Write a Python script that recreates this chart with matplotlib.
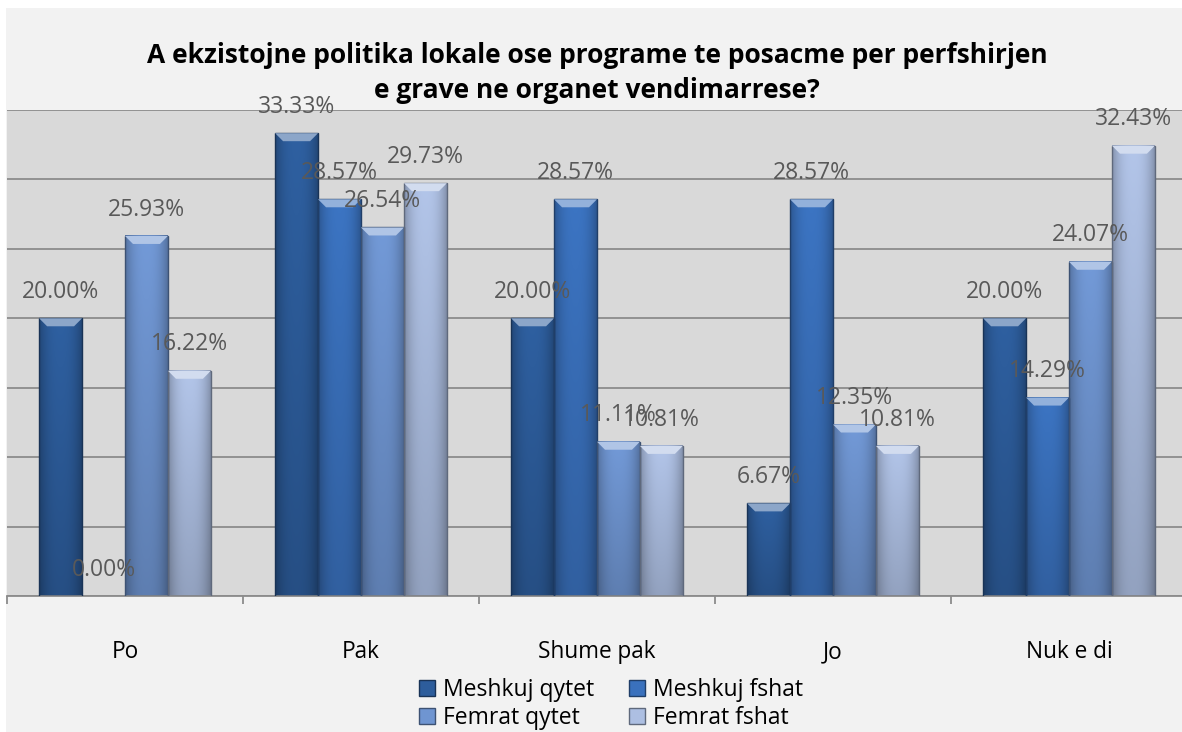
import matplotlib.pyplot as plt
import numpy as np
from matplotlib.colors import to_rgb
from matplotlib.patches import Rectangle, Polygon

categories = ["Po", "Pak", "Shume pak", "Jo", "Nuk e di"]
series_names = ["Meshkuj qytet", "Meshkuj fshat", "Femrat qytet", "Femrat fshat"]
meshkuj_qytet = [20.00, 33.33, 20.00, 6.67, 20.00]
meshkuj_fshat = [0.00, 28.57, 28.57, 28.57, 14.29]
femrat_qytet = [25.93, 26.54, 11.11, 12.35, 24.07]
femrat_fshat = [16.22, 29.73, 10.81, 10.81, 32.43]
series = [meshkuj_qytet, meshkuj_fshat, femrat_qytet, femrat_fshat]
colors = ["#2d5d9c", "#3a71bd", "#6f95d1", "#adbfe2"]

plt.rcParams['font.family'] = ['Open Sans', 'DejaVu Sans']

W, H = 1182, 732
fig = plt.figure(figsize=(W / 100, H / 100), dpi=100, facecolor='white')
fig.patches.append(Rectangle((6 / W, 0), 1, (H - 8) / H, transform=fig.transFigure,
                             facecolor='#f2f2f2', edgecolor='none', zorder=-5))

# plot area runs past the right edge of the picture
ax = fig.add_axes([7 / W, 136 / H, 1180 / W, 486 / H])
ax.set_zorder(1)
ax.set_facecolor('#d9d9d9')
ax.set_xlim(-0.5, 4.5)
ax.set_ylim(0, 35)
ax.set_yticks(np.arange(0, 36, 5))
ax.yaxis.grid(True, color='#8c8c8c', linewidth=1.3)
ax.set_axisbelow(True)
ax.tick_params(axis='y', left=False, labelleft=False)
for s in ['left', 'right', 'top']:
    ax.spines[s].set_visible(False)
ax.spines['bottom'].set_color('#8c8c8c')
ax.spines['bottom'].set_linewidth(1.3)

ax.set_xticks(np.arange(-0.5, 5, 1))
ax.set_xticklabels([])
ax.set_xticks(np.arange(5), minor=True)
ax.set_xticklabels(categories, minor=True, fontsize=16.3, color='black')
ax.tick_params(axis='x', which='major', length=6, color='#8c8c8c', width=1.3)
ax.tick_params(axis='x', which='minor', length=0, pad=32)

bw = 0.182
px_x = 5 / 1180  # data units per pixel
px_y = 35 / 486
x = np.arange(len(categories))
prof = np.linspace(-1, 1, 40)
shade = 1 - 0.25 * np.abs(prof) ** 2.5
for i, (vals, col) in enumerate(zip(series, colors)):
    base = np.array(to_rgb(col))
    xs = x + (i - 1.5) * bw
    for xc, v in zip(xs, vals):
        if v <= 0:
            continue
        x0, x1 = xc - bw / 2, xc + bw / 2
        vert = np.linspace(0.85, 1.03, 30)[:, None]
        img = np.clip(base[None, None, :] * shade[None, :, None] * vert[:, :, None], 0, 1)
        ax.imshow(img, extent=[x0, x1, 0, v], aspect='auto', origin='lower',
                  interpolation='bilinear', zorder=2)
        ax.add_patch(Rectangle((x0, 0), bw, v, facecolor='none',
                               edgecolor=base * 0.55, linewidth=1.0, zorder=3))
        dx, dy = 8 * px_x, 8 * px_y
        light = np.clip(base + (1 - base) * 0.45, 0, 1)
        ax.add_patch(Polygon([(x0, v), (x1, v), (x1 - dx, v - dy), (x0 + dx, v - dy)],
                             closed=True, facecolor=light, edgecolor='none', zorder=3))
    for xc, v in zip(xs, vals):
        ax.annotate(f"{v:.2f}%", (xc, v), xytext=(0, 19), textcoords='offset points',
                    ha='center', va='center', fontsize=16.5, color='#595959',
                    annotation_clip=False, zorder=5)
ax.set_xlim(-0.5, 4.5)
ax.set_ylim(0, 35)

fig.text(597 / W, 1 - 73 / H,
         "A ekzistojne politika lokale ose programe te posacme per perfshirjen\n"
         "e grave ne organet vendimarrese?",
         ha='center', va='center', fontsize=19, fontweight='bold', linespacing=1.38)

handles = [Rectangle((0, 0), 1, 1, facecolor=c, edgecolor=np.array(to_rgb(c)) * 0.55)
           for c in colors]
# excel fills the legend row by row
order = [0, 2, 1, 3]
fig.legend([handles[k] for k in order], [series_names[k] for k in order], ncol=2,
           loc='center', bbox_to_anchor=(611 / W, 1 - 704 / H),
           frameon=False, fontsize=16.5, handlelength=0.7, handleheight=0.7,
           handletextpad=0.35, columnspacing=1.5, labelspacing=0.2, borderpad=0)

fig.savefig('out.png', dpi=100, facecolor='white')
